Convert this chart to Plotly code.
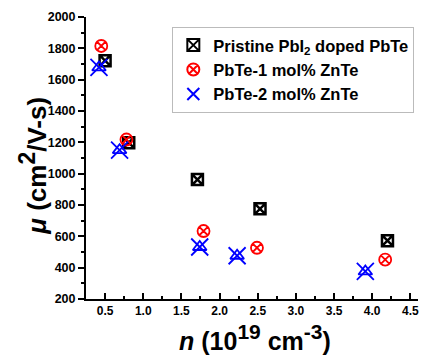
import plotly.graph_objects as go

# Data
n_pristine = [0.50, 0.81, 1.71, 2.53, 4.20]
mu_pristine = [1721, 1198, 962, 776, 572]
n_zn1 = [0.45, 0.78, 1.79, 2.49, 4.17]
mu_zn1 = [1815, 1218, 634, 527, 451]
n_zn2 = [0.42, 0.69, 1.74, 2.23, 3.91]
mu_zn2 = [1678, 1150, 532, 476, 376]

names = ["Pristine PbI<sub>2</sub> doped PbTe", "PbTe-1 mol% ZnTe", "PbTe-2 mol% ZnTe"]
x_title = "<i>n</i> (10<sup><span style='font-size:21px'>19</span></sup> cm<sup><span style='font-size:21px'>-3</span></sup>)"
y_title = "<i>μ</i> (cm<sup><span style='font-size:23px'>2</span></sup>/V-s)"

fig = go.Figure()
fig.add_trace(go.Scatter(x=n_pristine, y=mu_pristine, mode="markers", name=names[0],
                         marker=dict(symbol="square-x-open", size=11, color="black",
                                     line=dict(width=2.5, color="black"))))
fig.add_trace(go.Scatter(x=n_zn1, y=mu_zn1, mode="markers", name=names[1],
                         marker=dict(symbol="circle-x-open", size=12, color="red",
                                     line=dict(width=1.8, color="red"))))
fig.add_trace(go.Scatter(x=n_zn2, y=mu_zn2, mode="markers", showlegend=False,
                         marker=dict(symbol="triangle-up-open", size=12, color="blue",
                                     line=dict(width=1.8, color="blue"))))
fig.add_trace(go.Scatter(x=n_zn2, y=mu_zn2, mode="markers", name=names[2],
                         marker=dict(symbol="x-thin-open", size=17, color="blue",
                                     line=dict(width=1.8, color="blue"))))

font_family = "Liberation Sans, Arial, sans-serif"
fig.update_layout(
    width=421, height=355,
    margin=dict(l=86, r=3, t=17, b=56),
    plot_bgcolor="white", paper_bgcolor="white",
    font=dict(family=font_family, color="black"),
    showlegend=True,
    legend=dict(x=0.26, y=0.965, xanchor="left", yanchor="top",
                bordercolor="#bbbbbb", borderwidth=1, bgcolor="white",
                font=dict(size=16.5, family=font_family, weight="bold"),
                tracegroupgap=0, itemsizing="constant"),
    xaxis=dict(range=[0.25, 4.6], tickmode="array",
               tickvals=[0.5, 1.0, 1.5, 2.0, 2.5, 3.0, 3.5, 4.0, 4.5],
               ticktext=["0.5", "1.0", "1.5", "2.0", "2.5", "3.0", "3.5", "4.0", "4.5"],
               ticks="inside", ticklen=6, tickwidth=2, tickcolor="black",
               minor=dict(dtick=0.25, tick0=0.25, ticks="inside", ticklen=3, tickwidth=2, tickcolor="black"),
               showline=True, linecolor="black", linewidth=2, showgrid=False, zeroline=False,
               tickfont=dict(size=12, weight="bold")),
    yaxis=dict(range=[200, 2000], tickmode="linear", tick0=200, dtick=200,
               ticks="outside", ticklen=6, tickwidth=2, tickcolor="black",
               minor=dict(dtick=100, tick0=100, ticks="outside", ticklen=3, tickwidth=2, tickcolor="black"),
               showline=True, linecolor="black", linewidth=2, showgrid=False, zeroline=False,
               tickfont=dict(size=12.5, weight="bold")),
    annotations=[
        dict(text=x_title, xref="paper", yref="paper", x=0.51, y=-0.207,
             xanchor="center", yanchor="bottom", showarrow=False,
             font=dict(size=25, weight="bold", family=font_family)),
        dict(text=y_title, xref="paper", yref="paper", x=-0.16, y=0.472,
             xanchor="center", yanchor="middle", showarrow=False, textangle=-90,
             font=dict(size=26, weight="bold", family=font_family)),
    ],
)

fig.write_html("out.html")
